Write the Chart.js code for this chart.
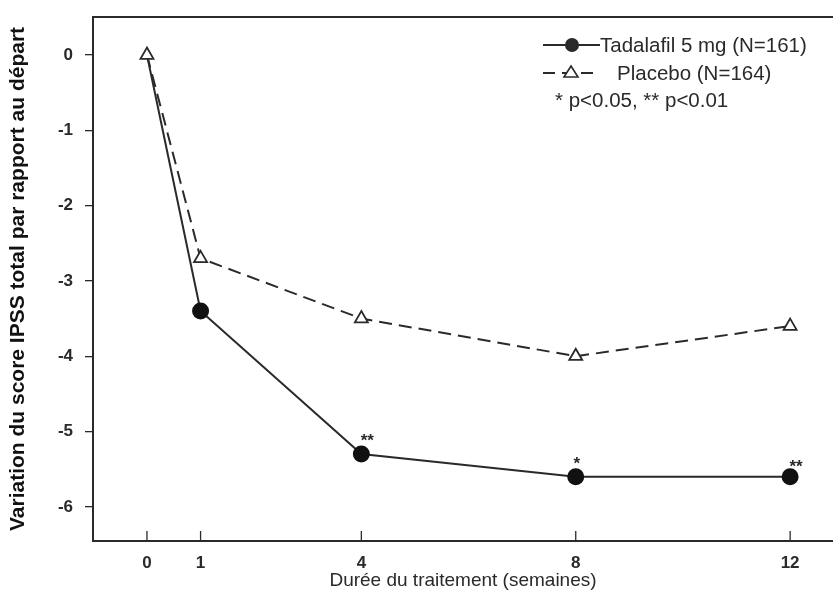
<!DOCTYPE html>
<html lang="fr">
<head>
    <meta charset="UTF-8">
    <title>Variation du score IPSS</title>
    <script src="https://cdn.jsdelivr.net/npm/chart.js@4"></script>
    <style>
        html, body { margin: 0; padding: 0; background: #fff; }
        #wrap { position: relative; width: 833px; height: 614px; }
    </style>
</head>
<body>
    <div id="wrap"><canvas id="ipssChart" width="833" height="614"></canvas></div>
    <script>
        // values
        const weeks = [0, 1, 4, 8, 12];
        const tadalafil = [0, -3.4, -5.3, -5.6, -5.6];
        const placebo = [0, -2.7, -3.5, -4.0, -3.6];
        const signif = ['', '', '**', '*', '**'];
        const yTicks = [0, -1, -2, -3, -4, -5, -6];
        const labelTadalafil = 'Tadalafil 5 mg (N=161)';
        const labelPlacebo = 'Placebo (N=164)';
        const labelP = '* p<0.05, ** p<0.01';

        const ink = '#2a2a2a';
        const fontName = "'Liberation Sans', Arial, sans-serif";

        const framePlugin = {
            id: 'frame',
            afterDatasetsDraw(chart) {
                const c = chart.ctx, a = chart.chartArea, xs = chart.scales.x, ys = chart.scales.y;
                c.save();
                c.strokeStyle = ink;
                c.lineWidth = 2;
                // top border
                c.beginPath();
                c.moveTo(a.left - 1, a.top);
                c.lineTo(a.right, a.top);
                c.stroke();
                // x tick marks, drawn inwards
                c.lineWidth = 1.3;
                weeks.forEach(w => {
                    const px = xs.getPixelForValue(w);
                    c.beginPath();
                    c.moveTo(px, a.bottom);
                    c.lineTo(px, a.bottom - 10);
                    c.stroke();
                });
                // significance stars
                c.fillStyle = ink;
                c.font = 'bold 17px ' + fontName;
                c.textAlign = 'center';
                c.textBaseline = 'alphabetic';
                signif.forEach((s, i) => {
                    if (!s) return;
                    const px = xs.getPixelForValue(weeks[i]) + (i === 3 ? 1 : 6);
                    const py = ys.getPixelForValue(tadalafil[i]) - (i === 4 ? 5 : 8);
                    c.fillText(s, px, py);
                });

                // legend
                c.textAlign = 'left';
                c.textBaseline = 'middle';
                c.font = '20.5px ' + fontName;
                c.lineWidth = 1.8;
                c.beginPath();
                c.moveTo(543, 45);
                c.lineTo(600, 45);
                c.stroke();
                c.beginPath();
                c.arc(572, 45, 7, 0, Math.PI * 2);
                c.fill();
                c.fillText(labelTadalafil, 600, 46);

                c.setLineDash([12, 7]);
                c.beginPath();
                c.moveTo(543, 73);
                c.lineTo(600, 73);
                c.stroke();
                c.setLineDash([]);
                c.fillStyle = '#fff';
                c.lineWidth = 1.6;
                c.beginPath();
                c.moveTo(571, 66);
                c.lineTo(578, 77);
                c.lineTo(564, 77);
                c.closePath();
                c.fill();
                c.stroke();
                c.fillStyle = ink;
                c.fillText(labelPlacebo, 617, 74);
                c.fillText(labelP, 555, 101);
                c.restore();
            }
        };

        const ctx = document.getElementById('ipssChart').getContext('2d');
        const chart = new Chart(ctx, {
            type: 'line',
            data: {
                datasets: [{
                    label: 'Placebo (N=164)',
                    data: weeks.map((w, i) => ({ x: w, y: placebo[i] })),
                    borderColor: ink,
                    borderWidth: 2,
                    borderDash: [13, 7],
                    pointStyle: 'triangle',
                    pointRadius: 7.5,
                    pointBackgroundColor: '#fff',
                    pointBorderColor: ink,
                    pointBorderWidth: 1.8,
                    fill: false
                }, {
                    label: 'Tadalafil 5 mg (N=161)',
                    data: weeks.map((w, i) => ({ x: w, y: tadalafil[i] })),
                    borderColor: ink,
                    borderWidth: 2,
                    pointStyle: 'circle',
                    pointRadius: [0, 7.5, 7.5, 7.5, 7.5],
                    pointBackgroundColor: '#111',
                    pointBorderColor: '#111',
                    fill: false
                }]
            },
            options: {
                responsive: false,
                animation: false,
                layout: { autoPadding: false, padding: { top: 17, right: 0, left: 6, bottom: 0 } },
                plugins: {
                    legend: { display: false },
                    tooltip: { enabled: false }
                },
                scales: {
                    x: {
                        type: 'linear',
                        min: -1.007,
                        max: 12.8,
                        afterBuildTicks: axis => { axis.ticks = weeks.map(v => ({ value: v })); },
                        afterFit: axis => {
                            axis.height = 73;
                            axis.paddingLeft = 0;
                            axis.paddingRight = 0;
                        },
                        grid: { display: false },
                        border: { display: true, color: ink, width: 2 },
                        ticks: {
                            color: ink,
                            padding: 4,
                            font: { family: fontName, size: 17, weight: 'bold' },
                            callback: v => String(v)
                        },
                        title: {
                            display: true,
                            text: 'Durée du traitement (semaines)',
                            color: ink,
                            padding: { top: 0, bottom: 22 },
                            font: { family: fontName, size: 19 }
                        }
                    },
                    y: {
                        min: -6.454,
                        max: 0.505,
                        afterBuildTicks: axis => { axis.ticks = yTicks.map(v => ({ value: v })); },
                        afterFit: axis => {
                            axis.width = 87;
                            axis.paddingTop = 0;
                            axis.paddingBottom = 0;
                        },
                        grid: {
                            display: true,
                            drawOnChartArea: false,
                            drawTicks: true,
                            tickLength: 8,
                            color: ink,
                            lineWidth: 1.3
                        },
                        border: { display: true, color: ink, width: 2 },
                        ticks: {
                            color: ink,
                            padding: 12,
                            font: { family: fontName, size: 17, weight: 'bold' },
                            callback: v => String(v)
                        },
                        title: {
                            display: true,
                            text: 'Variation du score IPSS total par rapport au départ',
                            color: '#111',
                            padding: 0,
                            font: { family: fontName, size: 21, weight: 'bold' }
                        }
                    }
                }
            },
            plugins: [framePlugin]
        });
    </script>
</body>
</html>
